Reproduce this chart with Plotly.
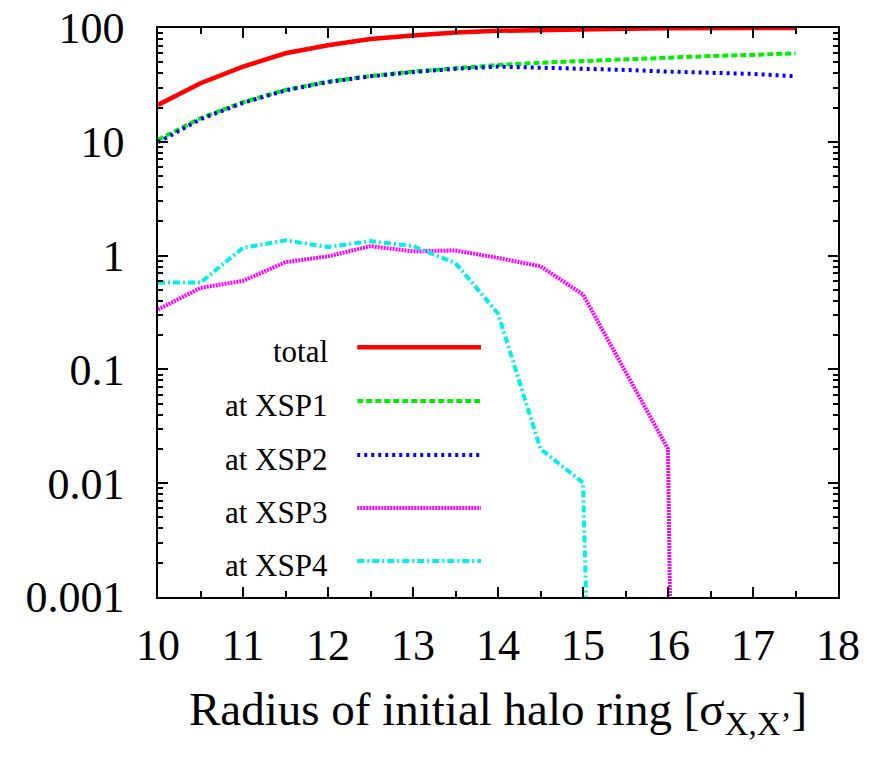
import plotly.graph_objects as go

ZERO = 1e-30  # stands for "no particles" (drops off the log scale)

radius = [10, 10.5, 11, 11.5, 12, 12.5, 13, 13.5, 14, 14.5, 15, 15.5, 16, 16.5, 17, 17.5]
total = [21.1, 32.7, 45.7, 60.0, 70.6, 80.0, 86.0, 91.5, 94.5, 96.5, 97.5, 98.5, 99.3, 99.6, 99.8, 100.0]
xsp1 = [10.4, 16.1, 22.3, 28.6, 33.8, 37.9, 41.4, 44.3, 47.3, 49.5, 51.4, 53.4, 55.3, 56.7, 58.0, 60.0]
xsp2 = [9.9, 15.8, 22.0, 28.3, 33.5, 37.6, 41.0, 43.8, 45.8, 44.9, 43.7, 42.8, 41.4, 40.5, 39.5, 37.7]
xsp3 = [0.336, 0.52, 0.60, 0.875, 0.986, 1.21, 1.09, 1.11, 0.955, 0.806, 0.455, 0.095, 0.02, ZERO, ZERO, ZERO]
xsp4 = [0.58, 0.58, 1.17, 1.36, 1.19, 1.34, 1.21, 0.86, 0.31, 0.02, 0.0101, ZERO, ZERO, ZERO, ZERO, ZERO]

names = ["total", "at XSP1", "at XSP2", "at XSP3", "at XSP4"]
series = [total, xsp1, xsp2, xsp3, xsp4]
colors = ["#ff0000", "#00ee00", "#0000ff", "#ff00ff", "#00eeee"]
dashes = ["solid", "6px,3px", "3px,4px", "2px,1px", "7px,3px,2px,3px"]
widths = [4.5, 4, 4, 4, 4]

y_tickvals = [0.001, 0.01, 0.1, 1, 10, 100]
y_ticktext = ["0.001", "0.01", "0.1", "1", "10", "100"]
y_minor = [m * d for d in [0.001, 0.01, 0.1, 1, 10] for m in range(2, 10)]

FONT = "Times New Roman"

fig = go.Figure()
for name, ys, c, d, w in zip(names, series, colors, dashes, widths):
    fig.add_trace(go.Scatter(x=radius, y=ys, mode="lines", name=name,
                             line=dict(color=c, dash=d, width=w), showlegend=False))

# custom legend (text on left, sample on right), inside plot area
leg_y = [0.439, 0.3445, 0.2496, 0.1564, 0.0633]
for name, c, d, w, yy in zip(names, colors, dashes, widths, leg_y):
    fig.add_annotation(x=0.253, y=yy - 0.008, xref="paper", yref="paper", text=name,
                       showarrow=False, xanchor="right", yanchor="middle",
                       font=dict(family=FONT, size=31, color="black"))
    fig.add_shape(type="line", xref="paper", yref="paper",
                  x0=0.293, x1=0.475, y0=yy, y1=yy,
                  line=dict(color=c, dash=d, width=w))

tickstyle = dict(ticks="inside", tickwidth=1.5, tickcolor="black",
                 showgrid=False, zeroline=False, automargin=False)
xminor = dict(dtick=0.5, ticks="inside", ticklen=6, tickwidth=1.5, tickcolor="black")
yminor = dict(tickvals=y_minor, ticks="inside", ticklen=5, tickwidth=1.5, tickcolor="black")

fig.update_layout(
    xaxis=dict(range=[10, 18], dtick=1, tick0=10, ticklen=10, minor=xminor,
               showline=True, linecolor="black", linewidth=1.5, mirror=True,
               tickfont=dict(family=FONT, size=44, color="black"),
               ticklabelstandoff=8,
               title=dict(text="Radius of initial halo ring [σ<sub>X,X’</sub>]",
                          font=dict(family=FONT, size=47, color="black"), standoff=24),
               **tickstyle),
    yaxis=dict(type="log", range=[-3, 2], tickmode="array",
               tickvals=y_tickvals, ticktext=y_ticktext, ticklen=10, minor=yminor,
               showline=True, linecolor="black", linewidth=1.5, mirror=True,
               tickfont=dict(family=FONT, size=44, color="black"),
               ticklabelstandoff=23, **tickstyle),
    xaxis2=dict(range=[10, 18], dtick=1, tick0=10, ticklen=10, minor=xminor,
                overlaying="x", side="top", showticklabels=False, **tickstyle),
    yaxis2=dict(type="log", range=[-3, 2], tickmode="array", tickvals=y_tickvals,
                ticklen=10, minor=yminor, overlaying="y", side="right",
                showticklabels=False, **tickstyle),
)
# invisible helper trace so the mirrored tick axes are drawn
fig.add_trace(go.Scatter(x=[radius[0]], y=[total[0]], xaxis="x2", yaxis="y2",
                         mode="markers", marker=dict(opacity=0), showlegend=False,
                         hoverinfo="skip"))

fig.update_layout(width=881, height=761, autosize=False,
                  margin=dict(l=158, r=43, t=28, b=164, autoexpand=False),
                  paper_bgcolor="white", plot_bgcolor="white",
                  font=dict(family=FONT, color="black"))

fig.write_html("out.html")
